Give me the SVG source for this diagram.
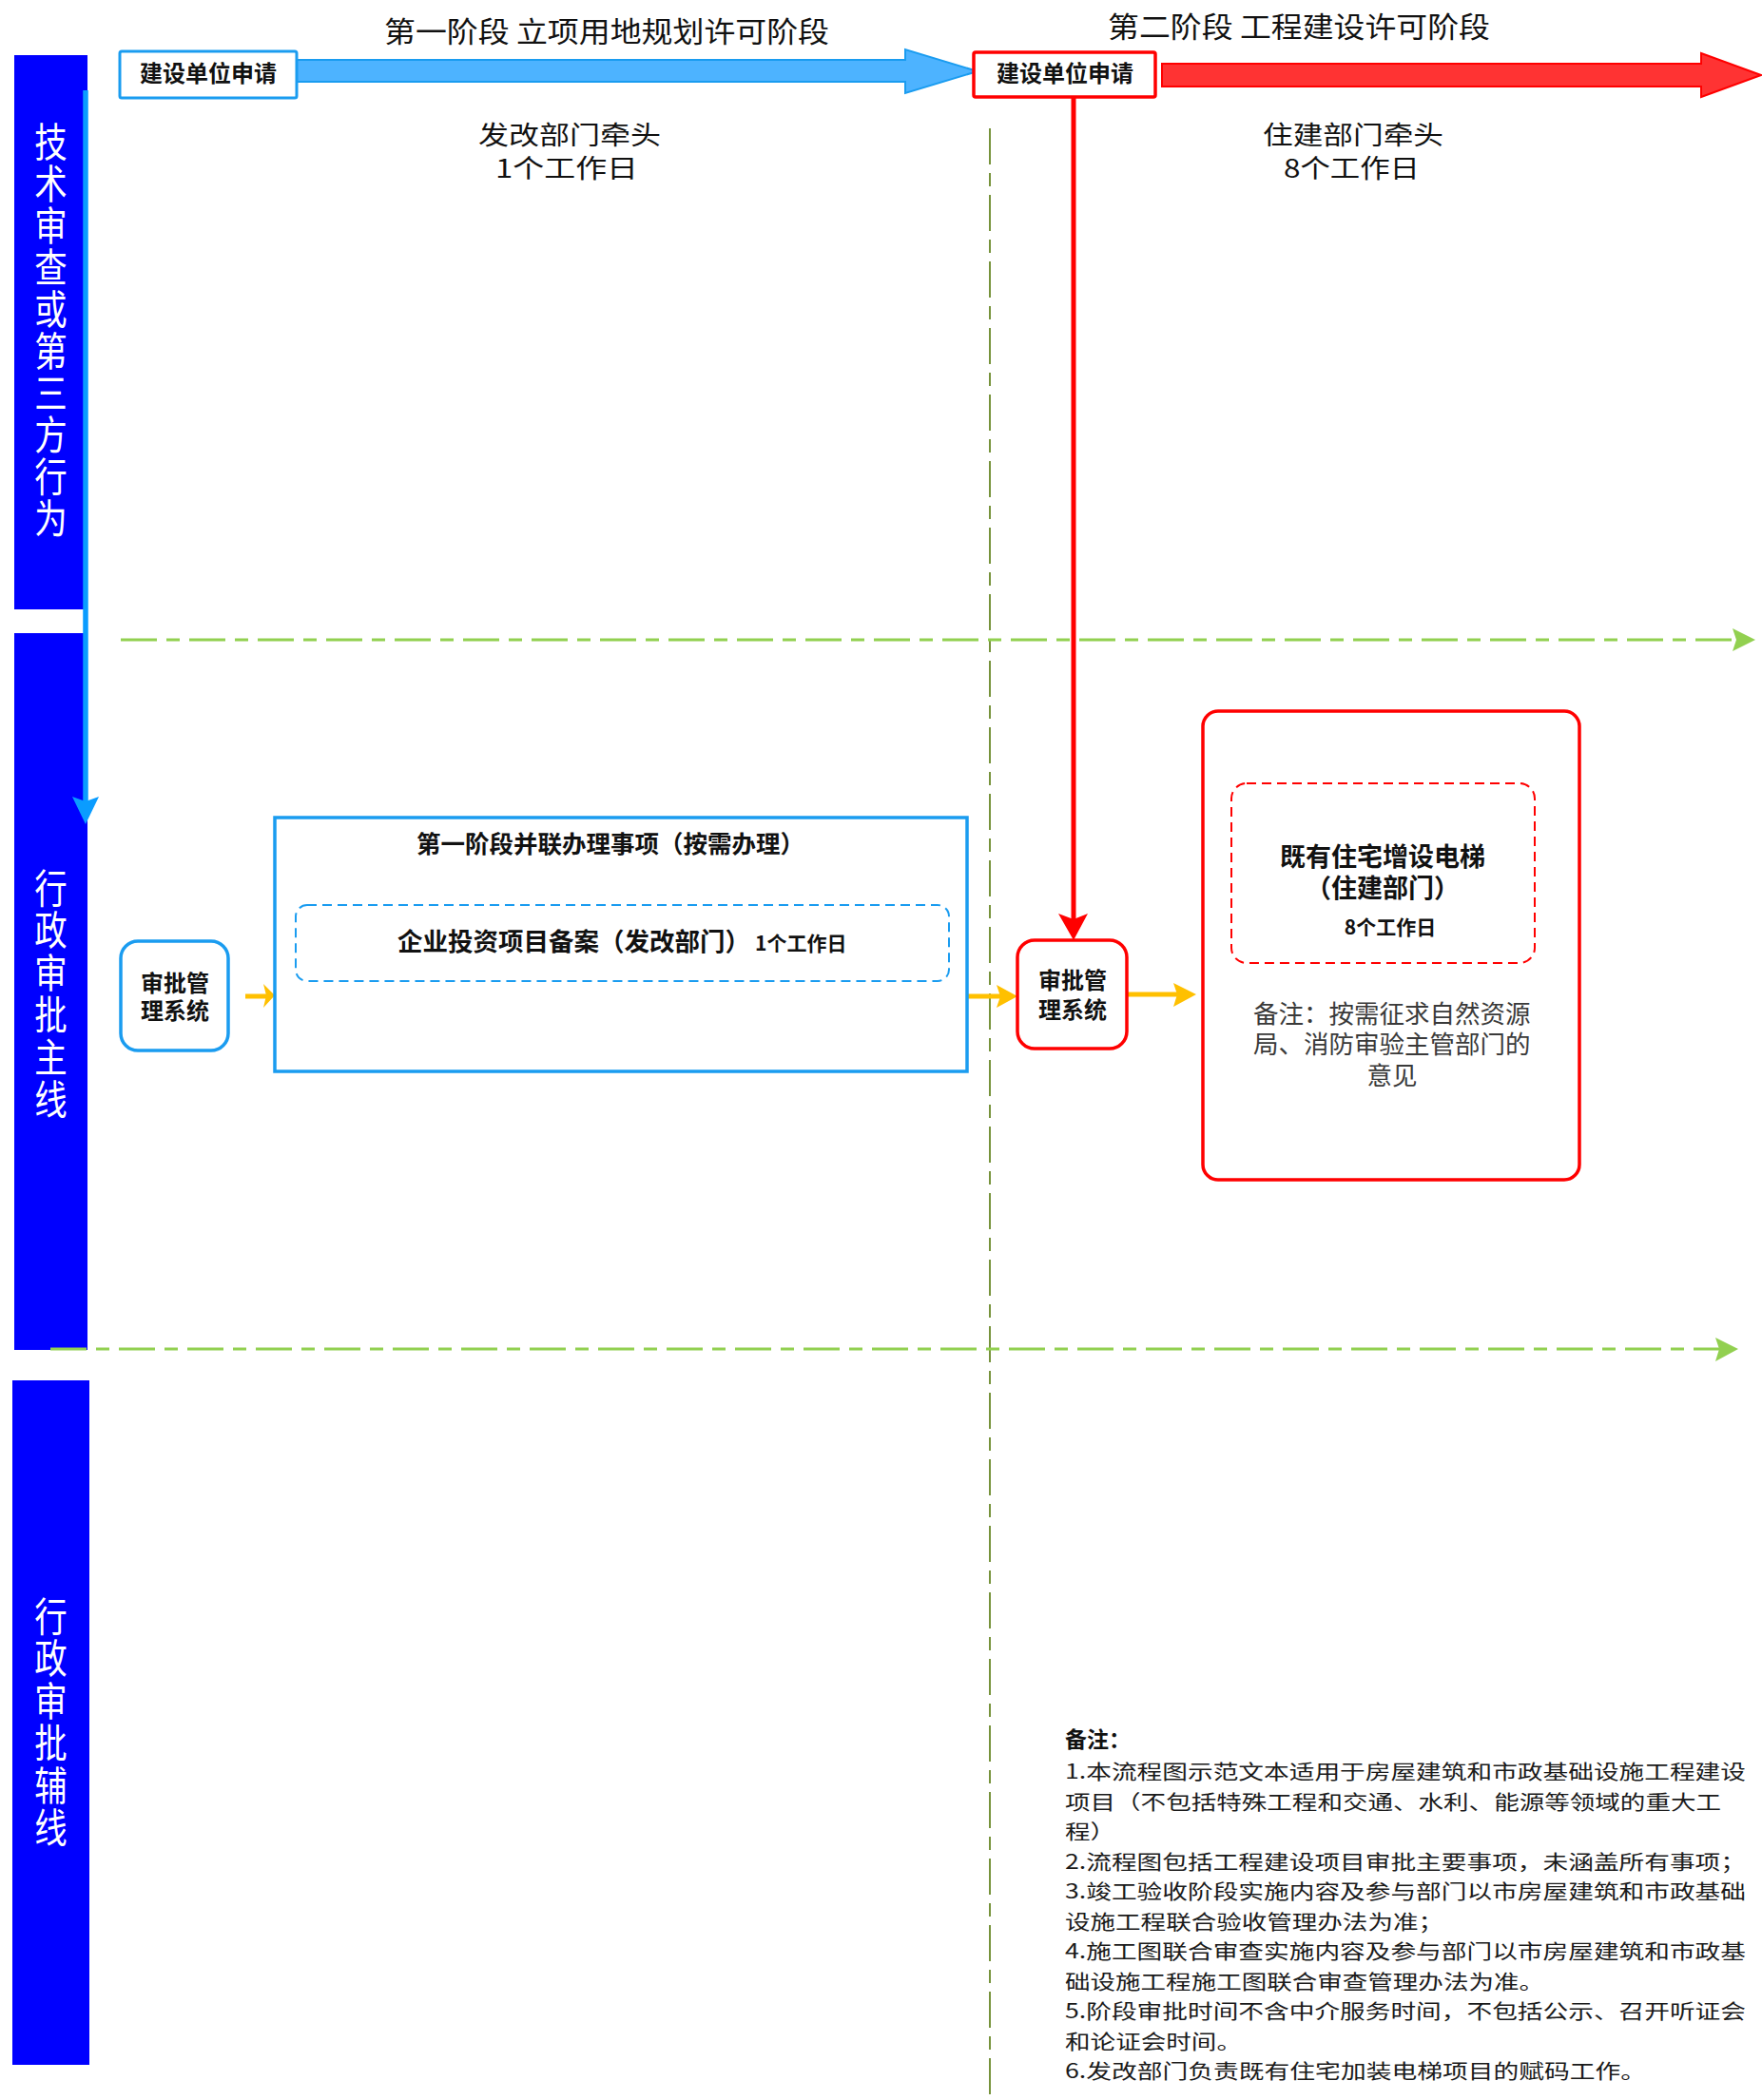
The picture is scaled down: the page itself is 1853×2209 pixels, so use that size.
<svg xmlns="http://www.w3.org/2000/svg" width="1853" height="2209" viewBox="0 0 1853 2209">
<style>
text{font-family:"Noto Sans CJK SC","Noto Sans",sans-serif;}
.lane{fill:#0000ff;}
.lanetxt{fill:#ffffff;font-size:42px;writing-mode:vertical-rl;}
.title{font-size:30px;fill:#111;}
.lead{font-size:27px;fill:#111;}
.boxlbl{font-size:24px;font-weight:bold;fill:#111;text-anchor:middle;}
.bold{font-weight:bold;fill:#111;}
.note{font-size:21px;fill:#1a1a1a;}
.rnote{font-size:26.5px;fill:#3a3a3a;}
.gdash{stroke:#92d050;stroke-width:3;fill:none;stroke-dasharray:38 10 14 10;}
.gvert{stroke:#77933c;stroke-width:2;fill:none;stroke-dasharray:38 9 14 9;}
.garrow{fill:#92d050;}
.yline{stroke:#ffc000;stroke-width:5;fill:none;}
.yhead{fill:#ffc000;}
.bluebox{fill:#ffffff;stroke:#1a9cf0;stroke-width:3.5;}
.bluedash{fill:none;stroke:#1a9cf0;stroke-width:2;stroke-dasharray:10 6;}
.redbox{fill:#ffffff;stroke:#ff0000;stroke-width:3.5;}
.reddash{fill:none;stroke:#ff0000;stroke-width:2;stroke-dasharray:10 6;}
</style>

<rect width="1853" height="2209" fill="#ffffff"/>

<g id="lanes">
  <g id="lane-tech">
    <rect class="lane" x="15" y="58" width="77" height="583"/>
    <g transform="translate(53.5,0) scale(0.82,1)">
      <text class="lanetxt" x="0" y="128" letter-spacing="2">技术审查或第三方行为</text>
    </g>
  </g>
  <g id="lane-main">
    <rect class="lane" x="15" y="666" width="77" height="754"/>
    <g transform="translate(53.5,0) scale(0.82,1)">
      <text class="lanetxt" x="0" y="913" letter-spacing="2.5">行政审批主线</text>
    </g>
  </g>
  <g id="lane-aux">
    <rect class="lane" x="13" y="1452" width="81" height="720"/>
    <g transform="translate(53.5,0) scale(0.82,1)">
      <text class="lanetxt" x="0" y="1679" letter-spacing="2.5">行政审批辅线</text>
    </g>
  </g>
</g>

<g id="headings">
  <text class="title" x="404" y="44" textLength="468" lengthAdjust="spacingAndGlyphs">第一阶段 立项用地规划许可阶段</text>
  <text class="title" x="1165" y="39" textLength="402" lengthAdjust="spacingAndGlyphs">第二阶段 工程建设许可阶段</text>
  <text class="lead"><tspan x="503" y="152" textLength="192" lengthAdjust="spacingAndGlyphs">发改部门牵头</tspan><tspan x="521" y="187" textLength="150" lengthAdjust="spacingAndGlyphs">1个工作日</tspan></text>
  <text class="lead"><tspan x="1328" y="152" textLength="190" lengthAdjust="spacingAndGlyphs">住建部门牵头</tspan><tspan x="1350" y="187" textLength="143" lengthAdjust="spacingAndGlyphs">8个工作日</tspan></text>
</g>

<g id="connectors">
  <line class="gvert" x1="1041" y1="135" x2="1041" y2="2209"/>
  <line class="gdash" x1="127" y1="673" x2="1830" y2="673"/>
  <path class="garrow" d="M1822,661 L1846,673 L1822,685 L1826,673 Z"/>
  <line class="gdash" x1="53" y1="1419" x2="1812" y2="1419"/>
  <path class="garrow" d="M1804,1407 L1828,1419 L1804,1432 L1808,1419 Z"/>

  <path d="M312,63 L952,63 L952,52 L1028,75 L952,98 L952,86 L312,86 Z" fill="#4db3ff" stroke="#1a9cf0" stroke-width="2"/>
  <path d="M1222,67 L1789,67 L1789,56 L1852,79 L1789,102 L1789,91 L1222,91 Z" fill="#ff3333" stroke="#ff0000" stroke-width="2"/>

  <line x1="90" y1="95" x2="90" y2="848" stroke="#0a9cff" stroke-width="5.5"/>
  <path d="M76,838 L90,843 L104,838 L90,867 Z" fill="#0a9cff"/>

  <line x1="1129" y1="102" x2="1129" y2="968" stroke="#ff0000" stroke-width="5"/>
  <path d="M1113,961 L1129,967 L1144,961 L1129,989 Z" fill="#ff0000"/>

  <line class="yline" x1="258" y1="1048" x2="280" y2="1048"/>
  <path class="yhead" d="M277,1035 L289,1047 L277,1060 L280,1047 Z"/>
  <line class="yline" x1="1017" y1="1048" x2="1052" y2="1048"/>
  <path class="yhead" d="M1048,1036 L1070,1048 L1048,1060 L1052,1048 Z"/>
  <line class="yline" x1="1185" y1="1046" x2="1238" y2="1046"/>
  <path class="yhead" d="M1234,1034 L1258,1046 L1234,1059 L1238,1046 Z"/>
</g>

<g id="node-apply-1">
  <rect x="126" y="54" width="186" height="49" rx="2" fill="#ffffff" stroke="#1a9cf0" stroke-width="3"/>
  <text class="boxlbl" x="219" y="86">建设单位申请</text>
</g>

<g id="node-apply-2">
  <rect x="1024" y="55" width="191" height="47" rx="2" fill="#ffffff" stroke="#ff0000" stroke-width="3.5"/>
  <text class="boxlbl" x="1120" y="86">建设单位申请</text>
</g>

<g id="node-system-1">
  <rect class="bluebox" x="127" y="990" width="113" height="115" rx="18" stroke-width="4"/>
  <text class="boxlbl"><tspan x="184" y="1043">审批管</tspan><tspan x="184" y="1072">理系统</tspan></text>
</g>

<g id="node-stage1">
  <rect class="bluebox" x="289" y="860" width="728" height="267"/>
  <text class="bold" x="438" y="897" font-size="25.5">第一阶段并联办理事项（按需办理）</text>
  <rect class="bluedash" x="311" y="952" width="687" height="80" rx="12"/>
  <text class="bold" x="418" y="1000" font-size="26.5">企业投资项目备案（发改部门）<tspan x="794" font-size="21">1个工作日</tspan></text>
</g>

<g id="node-system-2">
  <rect class="redbox" x="1070" y="989" width="115" height="114" rx="18" stroke-width="4"/>
  <text class="boxlbl" font-size="26"><tspan x="1128" y="1040">审批管</tspan><tspan x="1128" y="1071">理系统</tspan></text>
</g>

<g id="node-stage2">
  <rect class="redbox" x="1265" y="748" width="396" height="493" rx="16"/>
  <rect class="reddash" x="1295" y="824" width="319" height="189" rx="16"/>
  <text class="bold" font-size="27" text-anchor="middle"><tspan x="1454" y="911">既有住宅增设电梯</tspan><tspan x="1454" y="944">（住建部门）</tspan><tspan x="1462" y="983" font-size="21">8个工作日</tspan></text>
  <text class="rnote"><tspan x="1318" y="1076">备注：按需征求自然资源</tspan><tspan x="1318" y="1108">局、消防审验主管部门的</tspan><tspan x="1464" y="1141" text-anchor="middle">意见</tspan></text>
</g>

<g id="notes">
  <text class="note"><tspan class="bold" x="1120" y="1838" font-size="23">备注：</tspan><tspan x="1120" y="1871" textLength="716" lengthAdjust="spacingAndGlyphs">1.本流程图示范文本适用于房屋建筑和市政基础设施工程建设</tspan><tspan x="1120" y="1902.5" textLength="690" lengthAdjust="spacingAndGlyphs">项目（不包括特殊工程和交通、水利、能源等领域的重大工</tspan><tspan x="1120" y="1934" textLength="53" lengthAdjust="spacingAndGlyphs">程）</tspan><tspan x="1120" y="1965.5" textLength="716" lengthAdjust="spacingAndGlyphs">2.流程图包括工程建设项目审批主要事项，未涵盖所有事项；</tspan><tspan x="1120" y="1997" textLength="716" lengthAdjust="spacingAndGlyphs">3.竣工验收阶段实施内容及参与部门以市房屋建筑和市政基础</tspan><tspan x="1120" y="2028.5" textLength="398" lengthAdjust="spacingAndGlyphs">设施工程联合验收管理办法为准；</tspan><tspan x="1120" y="2060" textLength="716" lengthAdjust="spacingAndGlyphs">4.施工图联合审查实施内容及参与部门以市房屋建筑和市政基</tspan><tspan x="1120" y="2091.5" textLength="504" lengthAdjust="spacingAndGlyphs">础设施工程施工图联合审查管理办法为准。</tspan><tspan x="1120" y="2123" textLength="716" lengthAdjust="spacingAndGlyphs">5.阶段审批时间不含中介服务时间，不包括公示、召开听证会</tspan><tspan x="1120" y="2154.5" textLength="186" lengthAdjust="spacingAndGlyphs">和论证会时间。</tspan><tspan x="1120" y="2186" textLength="611" lengthAdjust="spacingAndGlyphs">6.发改部门负责既有住宅加装电梯项目的赋码工作。</tspan></text>
</g>
</svg>
